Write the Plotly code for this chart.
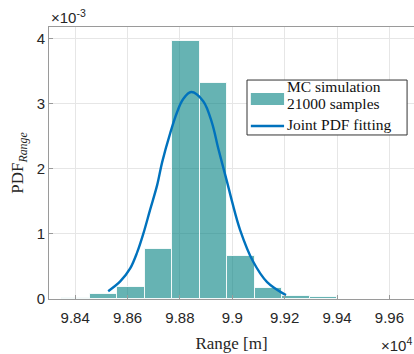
import plotly.graph_objects as go

# Histogram (PDF values in units of 1e-3)
bin_edges = [98350, 98455, 98560, 98665, 98770, 98875, 98980, 99085, 99190, 99295, 99400]
bin_heights = [0.02, 0.08, 0.19, 0.77, 3.96, 3.32, 0.66, 0.17, 0.05, 0.03]

# Joint PDF fitting curve (units of 1e-3)
fit_x = [98526, 98572, 98610, 98637, 98660, 98686, 98713, 98732, 98763, 98789, 98812,
         98843, 98889, 98923, 98946, 98980, 98999, 99030, 99079, 99133, 99205]
fit_y = [0.12, 0.27, 0.47, 0.72, 1.00, 1.37, 1.75, 2.10, 2.55, 2.87, 3.07,
         3.18, 3.04, 2.70, 2.32, 1.80, 1.50, 1.06, 0.58, 0.26, 0.06]

x_ticks = [98400, 98600, 98800, 99000, 99200, 99400, 99600]
x_tick_text = ["9.84", "9.86", "9.88", "9.9", "9.92", "9.94", "9.96"]
y_ticks = [0, 1, 2, 3, 4]

legend_labels = ["MC simulation", "21000 samples", "Joint PDF fitting"]

centers = [(a + b) / 2 for a, b in zip(bin_edges[:-1], bin_edges[1:])]
widths = [b - a for a, b in zip(bin_edges[:-1], bin_edges[1:])]

serif = "Liberation Serif, DejaVu Serif, serif"
sans = "Liberation Sans, Arial, sans-serif"
bar_color = "rgba(0,128,128,0.6)"
line_color = "#0072BD"

fig = go.Figure()
fig.add_trace(go.Bar(
    x=centers, y=bin_heights, width=widths,
    marker=dict(color=bar_color, line=dict(color="rgba(255,255,255,0.85)", width=1)),
    name="MC simulation 21000 samples", showlegend=False,
))
fig.add_trace(go.Scatter(
    x=fit_x, y=fit_y, mode="lines", line=dict(color=line_color, width=2.4, shape="spline"),
    name="Joint PDF fitting", showlegend=False,
))

axis_common = dict(
    showline=True, linecolor="#9a9a9a", linewidth=1, mirror=True,
    ticks="inside", ticklen=4, tickcolor="#9a9a9a",
    showgrid=True, gridcolor="#e6e6e6", gridwidth=1, zeroline=False,
    tickfont=dict(family=sans, size=15, color="#262626"),
)

fig.update_layout(
    width=414, height=354,
    margin=dict(l=49, r=0, t=27, b=55),
    paper_bgcolor="white", plot_bgcolor="white",
    bargap=0,
    xaxis=dict(range=[98300, 99694], tickvals=x_ticks, ticktext=x_tick_text,
               ticklabelstandoff=5,
               title=dict(text="Range [m]", font=dict(family=serif, size=17, color="#262626"), standoff=12),
               **axis_common),
    yaxis=dict(range=[0, 4.18], tickvals=y_ticks,
               title=dict(text="PDF<sub><i>Range</i></sub>", font=dict(family=serif, size=17, color="#262626"), standoff=8),
               **axis_common),
    showlegend=False,
)

# Manual legend (paper coordinates of the plot area)
fig.add_shape(type="rect", xref="paper", yref="paper", x0=0.5425, x1=0.981, y0=0.603, y1=0.805,
              line=dict(color="#333333", width=1), fillcolor="white", layer="above")
fig.add_shape(type="rect", xref="paper", yref="paper", x0=0.553, x1=0.644, y0=0.713, y1=0.757,
              line=dict(width=0), fillcolor=bar_color, layer="above")
fig.add_shape(type="line", xref="paper", yref="paper", x0=0.553, x1=0.644, y0=0.636, y1=0.636,
              line=dict(color=line_color, width=2.4), layer="above")
for lbl, yy in zip(legend_labels, [0.783, 0.717, 0.640]):
    fig.add_annotation(xref="paper", yref="paper", x=0.647, y=yy, xanchor="left", yanchor="middle",
                       text=lbl, showarrow=False, font=dict(family=serif, size=15.5, color="#111111"))

fig.add_annotation(xref="paper", yref="paper", x=0.0, y=1.0, xanchor="left", yanchor="bottom",
                   text="×10<sup>-3</sup>", showarrow=False, yshift=-1,
                   font=dict(family=sans, size=15, color="#262626"))
fig.add_annotation(xref="paper", yref="paper", x=1.0, y=0.0, xanchor="right", yanchor="top",
                   text="×10<sup>4</sup>", showarrow=False, yshift=-34,
                   font=dict(family=sans, size=15, color="#262626"))

fig.write_html("out.html")
